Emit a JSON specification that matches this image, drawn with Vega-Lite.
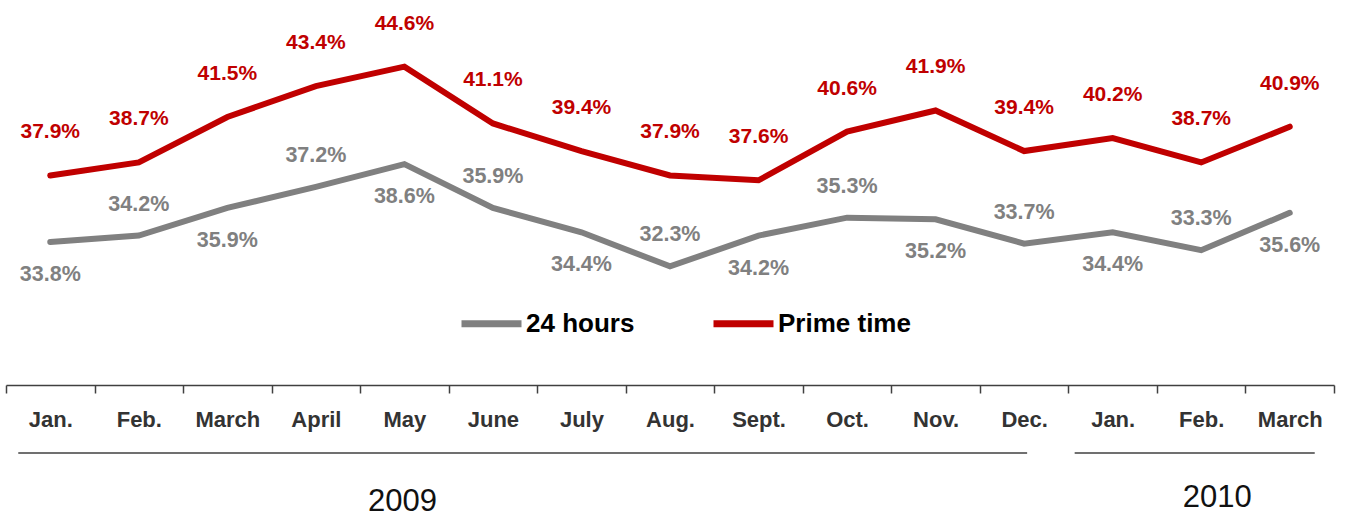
{
  "$schema": "https://vega.github.io/schema/vega-lite/v6.json",
  "width": 1328,
  "height": 385,
  "autosize": {"type": "none"},
  "padding": {"left": 6, "top": 0, "right": 35, "bottom": 134},
  "background": "white",
  "config": {
    "view": {"stroke": null},
    "font": "Liberation Sans",
    "text": {"font": "Liberation Sans"}
  },
  "datasets": {
    "shares": [
      {"month": "Jan. 2009", "series": "24 hours", "share": 0.338},
      {"month": "Feb. 2009", "series": "24 hours", "share": 0.342},
      {"month": "March 2009", "series": "24 hours", "share": 0.359},
      {"month": "April 2009", "series": "24 hours", "share": 0.372},
      {"month": "May 2009", "series": "24 hours", "share": 0.386},
      {"month": "June 2009", "series": "24 hours", "share": 0.359},
      {"month": "July 2009", "series": "24 hours", "share": 0.344},
      {"month": "Aug. 2009", "series": "24 hours", "share": 0.323},
      {"month": "Sept. 2009", "series": "24 hours", "share": 0.342},
      {"month": "Oct. 2009", "series": "24 hours", "share": 0.353},
      {"month": "Nov. 2009", "series": "24 hours", "share": 0.352},
      {"month": "Dec. 2009", "series": "24 hours", "share": 0.337},
      {"month": "Jan. 2010", "series": "24 hours", "share": 0.344},
      {"month": "Feb. 2010", "series": "24 hours", "share": 0.333},
      {"month": "March 2010", "series": "24 hours", "share": 0.356},
      {"month": "Jan. 2009", "series": "Prime time", "share": 0.379},
      {"month": "Feb. 2009", "series": "Prime time", "share": 0.387},
      {"month": "March 2009", "series": "Prime time", "share": 0.415},
      {"month": "April 2009", "series": "Prime time", "share": 0.434},
      {"month": "May 2009", "series": "Prime time", "share": 0.446},
      {"month": "June 2009", "series": "Prime time", "share": 0.411},
      {"month": "July 2009", "series": "Prime time", "share": 0.394},
      {"month": "Aug. 2009", "series": "Prime time", "share": 0.379},
      {"month": "Sept. 2009", "series": "Prime time", "share": 0.376},
      {"month": "Oct. 2009", "series": "Prime time", "share": 0.406},
      {"month": "Nov. 2009", "series": "Prime time", "share": 0.419},
      {"month": "Dec. 2009", "series": "Prime time", "share": 0.394},
      {"month": "Jan. 2010", "series": "Prime time", "share": 0.402},
      {"month": "Feb. 2010", "series": "Prime time", "share": 0.387},
      {"month": "March 2010", "series": "Prime time", "share": 0.409}
    ],
    "years": [
      {"year": "2009", "from": "Jan. 2009", "to": "Dec. 2009"},
      {"year": "2010", "from": "Jan. 2010", "to": "March 2010"}
    ]
  },
  "layer": [
    {
      "data": {"name": "shares"},
      "mark": {"type": "line", "strokeWidth": 6, "strokeCap": "round"},
      "encoding": {
        "x": {
          "field": "month", "type": "nominal", "sort": null, "title": null,
          "scale": {
            "domain": ["Jan. 2009","Feb. 2009","March 2009","April 2009","May 2009","June 2009","July 2009","Aug. 2009","Sept. 2009","Oct. 2009","Nov. 2009","Dec. 2009","Jan. 2010","Feb. 2010","March 2010"],
            "paddingInner": 0, "paddingOuter": 0
          },
          "axis": {
            "title": null,
            "labelExpr": "split(datum.label, ' ')[0]",
            "labelAngle": 0,
            "labelOverlap": false,
            "labelFont": "Liberation Sans",
            "labelFontSize": 22,
            "labelFontWeight": "bold",
            "labelColor": "#333333",
            "labelBaseline": "alphabetic",
            "labelPadding": 33,
            "tickBand": "extent",
            "tickSize": 8,
            "tickColor": "#404040",
            "tickWidth": 1.5,
            "domainColor": "#404040",
            "domainWidth": 1.5,
            "grid": false
          }
        },
        "y": {
          "field": "share", "type": "quantitative",
          "scale": {"domain": [0.25, 0.487], "nice": false, "zero": false},
          "axis": null
        },
        "color": {
          "field": "series", "type": "nominal",
          "scale": {"domain": ["24 hours", "Prime time"], "range": ["#808080", "#C00000"]},
          "legend": {
            "title": null,
            "orient": "none",
            "direction": "horizontal",
            "legendX": 452,
            "legendY": 290,
            "symbolType": "stroke",
            "symbolSize": 3600,
            "symbolStrokeWidth": 7,
            "labelFont": "Liberation Sans",
            "labelFontSize": 26,
            "labelFontWeight": "bold",
            "labelColor": "#000000",
            "labelOffset": 1,
            "columnPadding": 64
          }
        }
      }
    },
    {
      "data": {"name": "shares"},
      "transform": [{"filter": "datum.series == 'Prime time'"}],
      "mark": {"type": "text", "dy": -43, "baseline": "middle", "align": "center", "fontSize": 21, "fontWeight": "bold", "color": "#C00000"},
      "encoding": {
        "x": {"field": "month", "type": "nominal", "sort": null, "title": null},
        "y": {"field": "share", "type": "quantitative"},
        "text": {"field": "share", "type": "quantitative", "format": ".1%"}
      }
    },
    {
      "data": {"name": "shares"},
      "transform": [
        {"filter": "datum.series == '24 hours'"},
        {"window": [{"op": "row_number", "as": "n"}], "groupby": ["series"]},
        {"filter": "datum.n % 2 == 1"}
      ],
      "mark": {"type": "text", "dy": 33, "baseline": "middle", "align": "center", "fontSize": 21.5, "fontWeight": "bold", "color": "#808080"},
      "encoding": {
        "x": {"field": "month", "type": "nominal", "sort": null, "title": null},
        "y": {"field": "share", "type": "quantitative"},
        "text": {"field": "share", "type": "quantitative", "format": ".1%"}
      }
    },
    {
      "data": {"name": "shares"},
      "transform": [
        {"filter": "datum.series == '24 hours'"},
        {"window": [{"op": "row_number", "as": "n"}], "groupby": ["series"]},
        {"filter": "datum.n % 2 == 0"}
      ],
      "mark": {"type": "text", "dy": -31, "baseline": "middle", "align": "center", "fontSize": 21.5, "fontWeight": "bold", "color": "#808080"},
      "encoding": {
        "x": {"field": "month", "type": "nominal", "sort": null, "title": null},
        "y": {"field": "share", "type": "quantitative"},
        "text": {"field": "share", "type": "quantitative", "format": ".1%"}
      }
    },
    {
      "data": {"name": "years"},
      "transform": [{"filter": "datum.year == '2009'"}],
      "mark": {"type": "rule", "color": "#404040", "strokeWidth": 1.5, "xOffset": -32, "x2Offset": 3},
      "encoding": {
        "x": {"field": "from", "type": "nominal", "title": null},
        "x2": {"field": "to"},
        "y": {"datum": 0.20815, "type": "quantitative"}
      }
    },
    {
      "data": {"name": "years"},
      "transform": [{"filter": "datum.year == '2010'"}],
      "mark": {"type": "rule", "color": "#404040", "strokeWidth": 1.5, "xOffset": -38, "x2Offset": 25},
      "encoding": {
        "x": {"field": "from", "type": "nominal", "title": null},
        "x2": {"field": "to"},
        "y": {"datum": 0.20815, "type": "quantitative"}
      }
    },
    {
      "data": {"name": "years"},
      "transform": [{"filter": "datum.year == '2009'"}],
      "mark": {"type": "text", "fontSize": 31, "fontWeight": "normal", "color": "#111111", "baseline": "middle", "align": "center", "dx": -2, "dy": -1},
      "encoding": {
        "x": {"datum": "May 2009", "type": "nominal", "title": null},
        "y": {"datum": 0.17737, "type": "quantitative"},
        "text": {"field": "year"}
      }
    },
    {
      "data": {"name": "years"},
      "transform": [{"filter": "datum.year == '2010'"}],
      "mark": {"type": "text", "fontSize": 31, "fontWeight": "normal", "color": "#111111", "baseline": "middle", "align": "center", "dx": 16},
      "encoding": {
        "x": {"datum": "Feb. 2010", "type": "nominal", "title": null},
        "y": {"datum": 0.18044, "type": "quantitative"},
        "text": {"field": "year"}
      }
    }
  ]
}
